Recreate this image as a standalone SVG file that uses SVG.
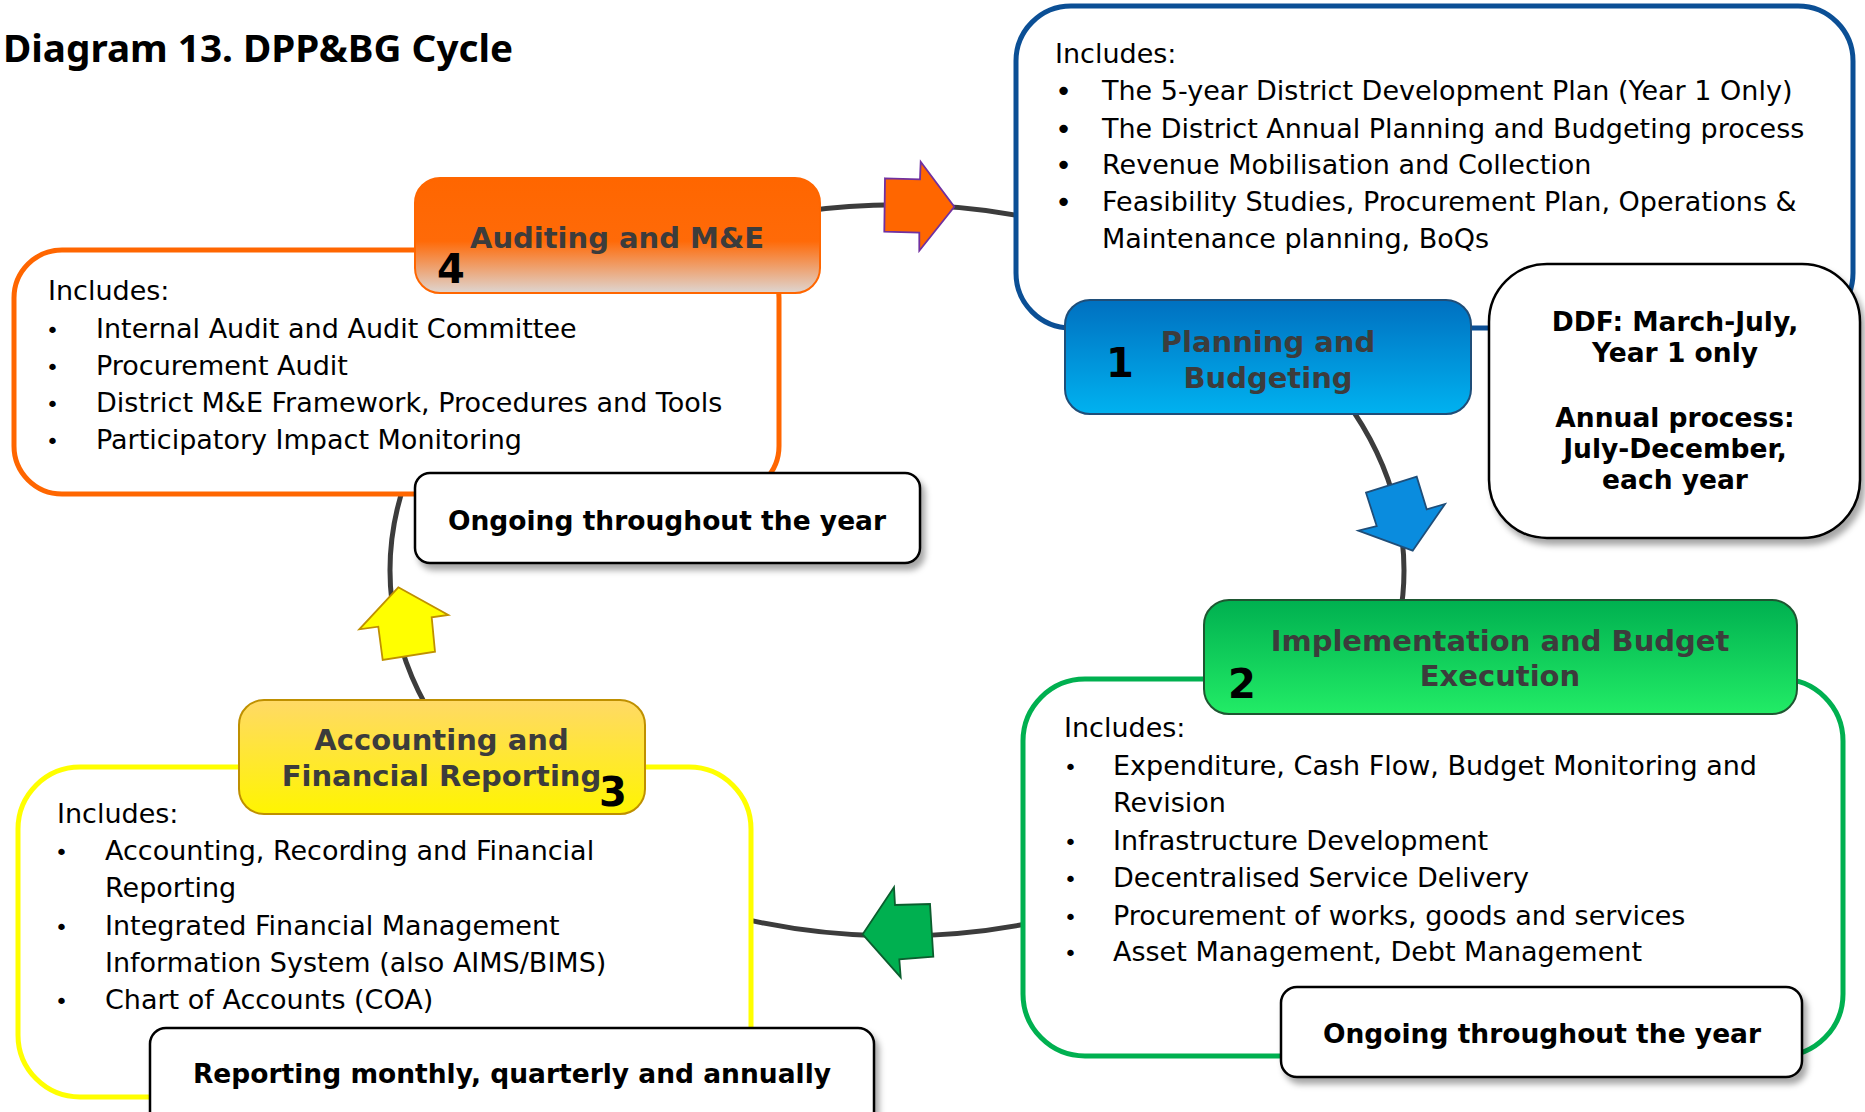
<svg xmlns="http://www.w3.org/2000/svg" width="1865" height="1112" viewBox="0 0 1865 1112">
<defs>
<linearGradient id="gOrange" x1="0" y1="0" x2="0" y2="1"><stop offset="0" stop-color="#FF6600"/><stop offset="0.55" stop-color="#FF6A08"/><stop offset="1" stop-color="#DED6D2"/></linearGradient>
<linearGradient id="gBlue" x1="0" y1="0" x2="0" y2="1"><stop offset="0" stop-color="#0070C0"/><stop offset="1" stop-color="#00B2F0"/></linearGradient>
<linearGradient id="gGreen" x1="0" y1="0" x2="0" y2="1"><stop offset="0" stop-color="#00B050"/><stop offset="1" stop-color="#22EC66"/></linearGradient>
<linearGradient id="gYellow" x1="0" y1="0" x2="0" y2="1"><stop offset="0" stop-color="#FFD966"/><stop offset="1" stop-color="#FFF500"/></linearGradient>
<filter id="sh" x="-10%" y="-10%" width="130%" height="140%"><feDropShadow dx="4" dy="6" stdDeviation="3" flood-color="#000" flood-opacity="0.35"/></filter>
</defs>
<style>
.body{font-family:"DejaVu Sans","Liberation Sans",sans-serif;font-size:27px;fill:#000}
.bul{font-family:"DejaVu Sans",sans-serif;font-size:22px;fill:#000}
.bulb{font-family:"DejaVu Sans",sans-serif;font-size:29px;fill:#000}
.hdr{font-family:"DejaVu Sans","Liberation Sans",sans-serif;font-size:29px;font-weight:bold;fill:#3C3C3C;text-anchor:middle}
.num{font-family:"DejaVu Sans","Liberation Sans",sans-serif;font-size:40px;font-weight:bold;fill:#000;text-anchor:middle}
.call{font-family:"DejaVu Sans","Liberation Sans",sans-serif;font-size:26.5px;font-weight:bold;fill:#000;text-anchor:middle}
.callbox{fill:#fff;stroke:#000;stroke-width:2.5;filter:url(#sh)}
.conn{fill:none;stroke:#3C3C3C;stroke-width:5}
</style>
<rect width="1865" height="1112" fill="#fff"/>
<text x="3" y="62" font-family="'Noto Sans','Open Sans',sans-serif" font-size="37" font-weight="bold" fill="#000" textLength="510" lengthAdjust="spacingAndGlyphs">Diagram 13. DPP&amp;BG Cycle</text>

<g id="connectors">
<path class="conn" d="M 800 211.75 A 507 365.5 0 0 1 1040 219.8"/>
<path class="conn" d="M 1345.4 400 A 507 365.5 0 0 1 1399.3 620"/>
<path class="conn" d="M 1040 921.2 A 507 365.5 0 0 1 730 915.6"/>
<path class="conn" d="M 434.4 720 A 507 365.5 0 0 1 405.8 480"/>
<polygon points="885,178.3 920,179.3 920.7,161.7 954.3,206.7 919.3,250.7 919.3,232.7 884.3,231.7" fill="#FF6600" stroke="#7030A0" stroke-width="1.8" stroke-linejoin="miter"/>
<polygon points="1366,492.7 1416.7,476.7 1426.7,509.3 1445,504 1412.7,550.7 1358.3,530.7 1376.7,526" fill="#0A8CDE" stroke="#1F4E79" stroke-width="1.8"/>
<polygon points="862.7,934.3 894,887.3 895,905 930,904 933.3,956.7 899.3,959.3 900.7,977.3" fill="#00B050" stroke="#0B5E2E" stroke-width="1.8"/>
<polygon points="398.3,587.3 448.3,615 431.7,617.3 435,651.7 382.7,660 378.3,626.7 359.3,629.3" fill="#FFFF00" stroke="#BF9000" stroke-width="1.8"/>
</g>

<g id="node-planning">
<rect x="1016" y="6" width="837" height="322" rx="55" ry="55" fill="#fff" stroke="#0B4F95" stroke-width="5"/>
<text class="body" x="1055" y="62.5">Includes:</text>
<text class="bulb" x="1055" y="101">•</text>
<text class="bulb" x="1055" y="138.5">•</text>
<text class="bulb" x="1055" y="175">•</text>
<text class="bulb" x="1055" y="212">•</text>
<text class="body" x="1102" y="100">The 5-year District Development Plan (Year 1 Only)</text>
<text class="body" x="1102" y="137.5">The District Annual Planning and Budgeting process</text>
<text class="body" x="1102" y="174">Revenue Mobilisation and Collection</text>
<text class="body" x="1102" y="211">Feasibility Studies, Procurement Plan, Operations &amp;</text>
<text class="body" x="1102" y="248">Maintenance planning, BoQs</text>
<rect x="1065" y="300" width="406" height="114" rx="25" ry="25" fill="url(#gBlue)" stroke="#1F4E79" stroke-width="2"/>
<text class="hdr" x="1268" y="352">Planning and</text>
<text class="hdr" x="1268" y="387.5">Budgeting</text>
<text class="num" x="1120" y="377">1</text>
</g>

<g id="node-ddf">
<rect class="callbox" x="1489" y="264" width="371" height="274" rx="58" ry="58"/>
<text class="call" x="1675" y="331">DDF: March-July,</text>
<text class="call" x="1675" y="362">Year 1 only</text>
<text class="call" x="1675" y="427">Annual process:</text>
<text class="call" x="1675" y="458">July-December,</text>
<text class="call" x="1675" y="489">each year</text>
</g>

<g id="node-implementation">
<rect x="1023" y="679" width="820" height="377" rx="62" ry="62" fill="#fff" stroke="#00B050" stroke-width="5"/>
<text class="body" x="1064" y="737">Includes:</text>
<text class="bul" x="1064" y="775">•</text>
<text class="bul" x="1064" y="850">•</text>
<text class="bul" x="1064" y="887">•</text>
<text class="bul" x="1064" y="925">•</text>
<text class="bul" x="1064" y="961">•</text>
<text class="body" x="1113" y="775">Expenditure, Cash Flow, Budget Monitoring and</text>
<text class="body" x="1113" y="812">Revision</text>
<text class="body" x="1113" y="850">Infrastructure Development</text>
<text class="body" x="1113" y="887">Decentralised Service Delivery</text>
<text class="body" x="1113" y="925">Procurement of works, goods and services</text>
<text class="body" x="1113" y="961">Asset Management, Debt Management</text>
<rect x="1204" y="600" width="593" height="114" rx="25" ry="25" fill="url(#gGreen)" stroke="#1E5631" stroke-width="2"/>
<text class="hdr" x="1500" y="651">Implementation and Budget</text>
<text class="hdr" x="1500" y="686">Execution</text>
<text class="num" x="1242" y="698">2</text>
<rect class="callbox" x="1281" y="987" width="521" height="90" rx="16" ry="16"/>
<text class="call" x="1542" y="1043">Ongoing throughout the year</text>
</g>

<g id="node-accounting">
<rect x="18" y="767" width="733" height="330" rx="62" ry="62" fill="#fff" stroke="#FFFF00" stroke-width="5"/>
<text class="body" x="57" y="822.6">Includes:</text>
<text class="bul" x="55" y="860">•</text>
<text class="bul" x="55" y="934.6">•</text>
<text class="bul" x="55" y="1009">•</text>
<text class="body" x="105" y="860">Accounting, Recording and Financial</text>
<text class="body" x="105" y="897">Reporting</text>
<text class="body" x="105" y="934.6">Integrated Financial Management</text>
<text class="body" x="105" y="971.7">Information System (also AIMS/BIMS)</text>
<text class="body" x="105" y="1009">Chart of Accounts (COA)</text>
<rect x="239" y="700" width="406" height="114" rx="25" ry="25" fill="url(#gYellow)" stroke="#BF9000" stroke-width="2"/>
<text class="hdr" x="441.5" y="750">Accounting and</text>
<text class="hdr" x="441.5" y="786">Financial Reporting</text>
<text class="num" x="613" y="806">3</text>
<rect class="callbox" x="150" y="1028" width="724" height="100" rx="16" ry="16"/>
<text class="call" x="512" y="1083">Reporting monthly, quarterly and annually</text>
</g>

<g id="node-auditing">
<rect x="14" y="250" width="765" height="244" rx="48" ry="48" fill="#fff" stroke="#FF6600" stroke-width="5"/>
<text class="body" x="48" y="300">Includes:</text>
<text class="bul" x="46" y="338">•</text>
<text class="bul" x="46" y="375">•</text>
<text class="bul" x="46" y="412">•</text>
<text class="bul" x="46" y="449">•</text>
<text class="body" x="96" y="338">Internal Audit and Audit Committee</text>
<text class="body" x="96" y="375">Procurement Audit</text>
<text class="body" x="96" y="412">District M&amp;E Framework, Procedures and Tools</text>
<text class="body" x="96" y="449">Participatory Impact Monitoring</text>
<rect x="415" y="178" width="405" height="115" rx="25" ry="25" fill="url(#gOrange)" stroke="#FF6600" stroke-width="2"/>
<text class="hdr" x="617" y="248">Auditing and M&amp;E</text>
<text class="num" x="451" y="283">4</text>
<rect class="callbox" x="415" y="473" width="505" height="90" rx="15" ry="15"/>
<text class="call" x="667" y="530">Ongoing throughout the year</text>
</g>
</svg>
